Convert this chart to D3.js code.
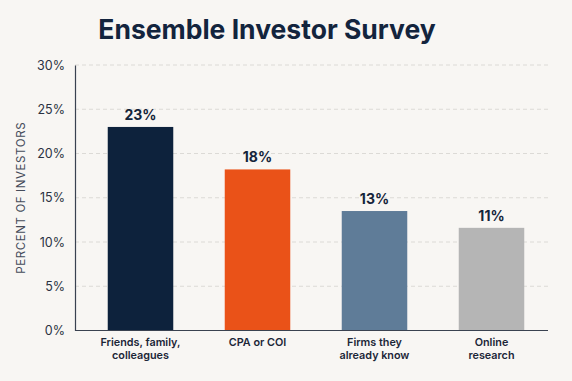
<!DOCTYPE html>
<html>
<head>
<meta charset="utf-8">
<script src="https://cdn.jsdelivr.net/npm/d3@7"></script>
<style>
  html, body { margin: 0; padding: 0; background: #f8f6f3; }
  svg { display: block; font-family: Inter, "Noto Sans", sans-serif; }
</style>
</head>
<body>
<svg id="chart"></svg>
<script>
'use strict';

// survey data
const categories = ["Friends, family, colleagues", "CPA or COI", "Firms they already know", "Online research"];
const labelLines = [["Friends, family,", "colleagues"], ["CPA or COI"], ["Firms they", "already know"], ["Online", "research"]];
const percents = [23, 18.2, 13.5, 11.6];
const valueLabels = ["23%", "18%", "13%", "11%"];
const yTicks = [0, 5, 10, 15, 20, 25, 30];
const barColors = ["#0d223c", "#ea5218", "#5f7c98", "#b5b5b5"];

const width = 572, height = 381;
const margin = {top: 65, right: 24, bottom: 50.5, left: 75};

const svg = d3.select("#chart")
  .attr("width", width)
  .attr("height", height);

svg.append("rect")
  .attr("width", width)
  .attr("height", height)
  .attr("fill", "#f8f6f3");

const x = d3.scaleBand()
  .domain(categories)
  .range([margin.left + 7, width - margin.right + 2])
  .paddingInner(0.44)
  .paddingOuter(0.22);

const y = d3.scaleLinear()
  .domain([0, 30])
  .range([height - margin.bottom, margin.top]);

// title
svg.append("text")
  .attr("x", 267)
  .attr("y", 39)
  .attr("text-anchor", "middle")
  .attr("fill", "#13243d")
  .attr("font-size", 26.5)
  .attr("font-weight", 700)
  .text("Ensemble Investor Survey");

// gridlines
svg.append("g")
  .selectAll("line")
  .data(yTicks.filter(d => d > 0))
  .enter().append("line")
    .attr("x1", margin.left)
    .attr("x2", width - margin.right)
    .attr("y1", d => y(d))
    .attr("y2", d => y(d))
    .attr("stroke", "#dcdad6")
    .attr("stroke-width", 1)
    .attr("stroke-dasharray", "4,3");

// y axis
const yAxis = svg.append("g")
  .attr("transform", `translate(${margin.left},0)`)
  .call(d3.axisLeft(y).tickValues(yTicks).tickSize(0).tickPadding(10).tickFormat(d => d + "%"));
yAxis.select(".domain").attr("stroke", "#3a4250").attr("stroke-width", 1.2);
yAxis.selectAll("text")
  .attr("fill", "#2a3242")
  .attr("font-size", 12.5)
  .attr("font-family", "Inter, sans-serif");

svg.append("text")
  .attr("transform", `translate(25,${y(15)}) rotate(-90)`)
  .attr("text-anchor", "middle")
  .attr("fill", "#454c5a")
  .attr("font-size", 11.5)
  .attr("letter-spacing", 0.6)
  .text("PERCENT OF INVESTORS");

// bars
svg.append("g")
  .selectAll("rect")
  .data(percents)
  .enter().append("rect")
    .attr("x", (d, i) => x(categories[i]))
    .attr("y", d => y(d))
    .attr("width", x.bandwidth())
    .attr("height", d => y(0) - y(d))
    .attr("fill", (d, i) => barColors[i]);

// value labels
svg.append("g")
  .selectAll("text")
  .data(percents)
  .enter().append("text")
    .attr("x", (d, i) => x(categories[i]) + x.bandwidth() / 2)
    .attr("y", d => y(d) - 7)
    .attr("text-anchor", "middle")
    .attr("fill", "#14243a")
    .attr("font-size", 14)
    .attr("font-weight", 700)
    .text((d, i) => valueLabels[i]);

// baseline
svg.append("line")
  .attr("x1", margin.left)
  .attr("x2", width - margin.right)
  .attr("y1", y(0))
  .attr("y2", y(0))
  .attr("stroke", "#3a4250")
  .attr("stroke-width", 1.2);

// category labels, one text per line
const xl = svg.append("g")
  .selectAll("g")
  .data(categories)
  .enter().append("g");

xl.selectAll("text")
  .data((d, i) => labelLines[i].map(t => ({cat: d, t: t})))
  .enter().append("text")
    .attr("x", d => x(d.cat) + x.bandwidth() / 2)
    .attr("y", (d, i) => y(0) + 15.5 + i * 13)
    .attr("text-anchor", "middle")
    .attr("fill", "#1c2638")
    .attr("font-size", 10.8)
    .attr("font-weight", 600)
    .text(d => d.t);
</script>
</body>
</html>
